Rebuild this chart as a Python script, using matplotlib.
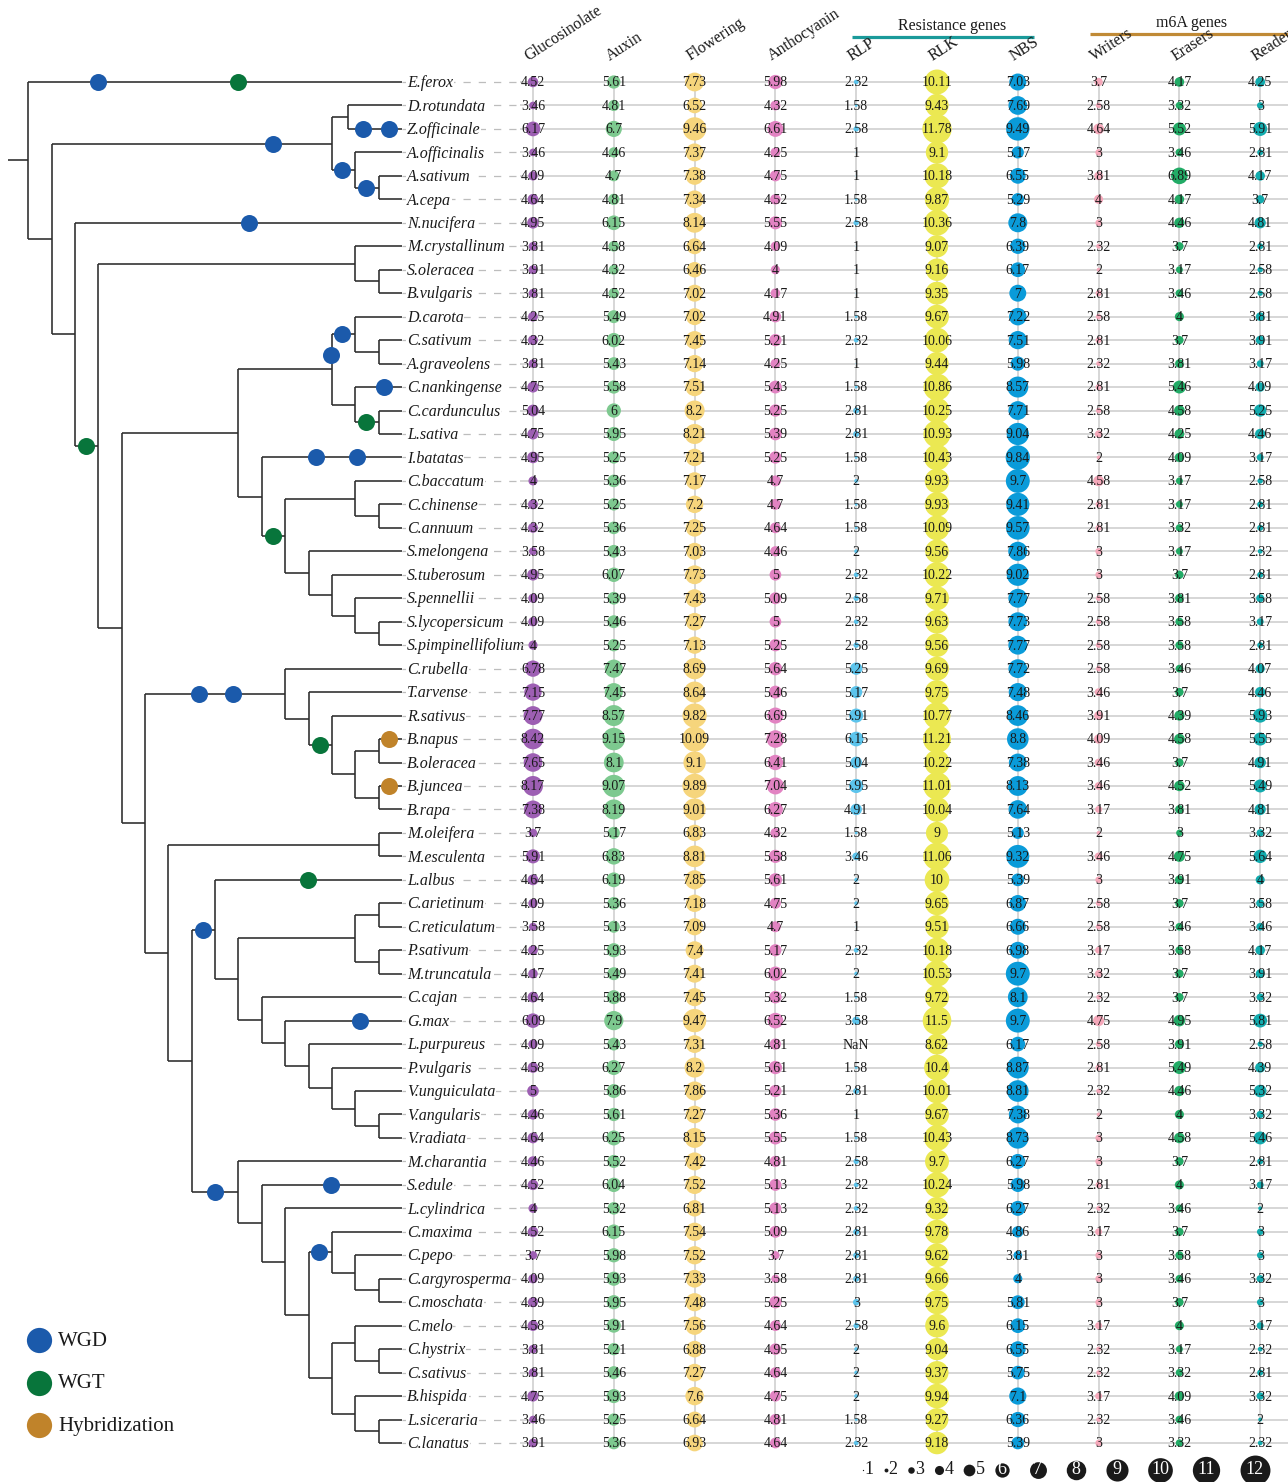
import numpy as np
import matplotlib
matplotlib.use("Agg")
import matplotlib.pyplot as plt

# ---------------- data ----------------
species = ["E.ferox", "D.rotundata", "Z.officinale", "A.officinalis", "A.sativum", "A.cepa",
           "N.nucifera", "M.crystallinum", "S.oleracea", "B.vulgaris", "D.carota", "C.sativum",
           "A.graveolens", "C.nankingense", "C.cardunculus", "L.sativa", "I.batatas", "C.baccatum",
           "C.chinense", "C.annuum", "S.melongena", "S.tuberosum", "S.pennellii", "S.lycopersicum",
           "S.pimpinellifolium", "C.rubella", "T.arvense", "R.sativus", "B.napus", "B.oleracea",
           "B.juncea", "B.rapa", "M.oleifera", "M.esculenta", "L.albus", "C.arietinum",
           "C.reticulatum", "P.sativum", "M.truncatula", "C.cajan", "G.max", "L.purpureus",
           "P.vulgaris", "V.unguiculata", "V.angularis", "V.radiata", "M.charantia", "S.edule",
           "L.cylindrica", "C.maxima", "C.pepo", "C.argyrosperma", "C.moschata", "C.melo",
           "C.hystrix", "C.sativus", "B.hispida", "L.siceraria", "C.lanatus"]

glucosinolate = [4.52, 3.46, 6.17, 3.46, 4.09, 4.64, 4.95, 3.81, 3.91, 3.81, 4.25, 4.32, 3.81, 4.75,
                 5.04, 4.75, 4.95, 4, 4.32, 4.32, 3.58, 4.95, 4.09, 4.09, 4, 6.78, 7.15, 7.77, 8.42,
                 7.65, 8.17, 7.38, 3.7, 5.91, 4.64, 4.09, 3.58, 4.25, 4.17, 4.64, 6.09, 4.09, 4.58,
                 5, 4.46, 4.64, 4.46, 4.52, 4, 4.52, 3.7, 4.09, 4.39, 4.58, 3.81, 3.81, 4.75, 3.46, 3.91]
auxin = [5.61, 4.81, 6.7, 4.46, 4.7, 4.81, 6.15, 4.58, 4.32, 4.52, 5.49, 6.02, 5.43, 5.58, 6, 5.95,
         5.25, 5.36, 5.25, 5.36, 5.43, 6.07, 5.39, 5.46, 5.25, 7.47, 7.45, 8.57, 9.15, 8.1, 9.07,
         8.19, 5.17, 6.83, 6.19, 5.36, 5.13, 5.93, 5.49, 5.88, 7.9, 5.43, 6.27, 5.86, 5.61, 6.25,
         5.52, 6.04, 5.32, 6.15, 5.98, 5.93, 5.95, 5.91, 5.21, 5.46, 5.93, 5.25, 5.36]
flowering = [7.73, 6.52, 9.46, 7.37, 7.38, 7.34, 8.14, 6.64, 6.46, 7.02, 7.02, 7.45, 7.14, 7.51, 8.2,
             8.21, 7.21, 7.17, 7.2, 7.25, 7.03, 7.73, 7.43, 7.27, 7.13, 8.69, 8.64, 9.82, 10.09, 9.1,
             9.89, 9.01, 6.83, 8.81, 7.85, 7.18, 7.09, 7.4, 7.41, 7.45, 9.47, 7.31, 8.2, 7.86, 7.27,
             8.15, 7.42, 7.52, 6.81, 7.54, 7.52, 7.33, 7.48, 7.56, 6.88, 7.27, 7.6, 6.64, 6.93]
anthocyanin = [5.98, 4.32, 6.61, 4.25, 4.75, 4.52, 5.55, 4.09, 4, 4.17, 4.91, 5.21, 4.25, 5.43, 5.25,
               5.39, 5.25, 4.7, 4.7, 4.64, 4.46, 5, 5.09, 5, 5.25, 5.64, 5.46, 6.69, 7.28, 6.41, 7.04,
               6.27, 4.32, 5.58, 5.61, 4.75, 4.7, 5.17, 6.02, 5.32, 6.52, 4.81, 5.61, 5.21, 5.36, 5.55,
               4.81, 5.13, 5.13, 5.09, 3.7, 3.58, 5.25, 4.64, 4.95, 4.64, 4.75, 4.81, 4.64]
rlp = [2.32, 1.58, 2.58, 1, 1, 1.58, 2.58, 1, 1, 1, 1.58, 2.32, 1, 1.58, 2.81, 2.81, 1.58, 2, 1.58,
       1.58, 2, 2.32, 2.58, 2.32, 2.58, 5.25, 5.17, 5.91, 6.15, 5.04, 5.95, 4.91, 1.58, 3.46, 2, 2, 1,
       2.32, 2, 1.58, 3.58, np.nan, 1.58, 2.81, 1, 1.58, 2.58, 2.32, 2.32, 2.81, 2.81, 2.81, 3, 2.58,
       2, 2, 2, 1.58, 2.32]
rlk = [10.11, 9.43, 11.78, 9.1, 10.18, 9.87, 10.36, 9.07, 9.16, 9.35, 9.67, 10.06, 9.44, 10.86, 10.25,
       10.93, 10.43, 9.93, 9.93, 10.09, 9.56, 10.22, 9.71, 9.63, 9.56, 9.69, 9.75, 10.77, 11.21, 10.22,
       11.01, 10.04, 9, 11.06, 10, 9.65, 9.51, 10.18, 10.53, 9.72, 11.5, 8.62, 10.4, 10.01, 9.67, 10.43,
       9.7, 10.24, 9.32, 9.78, 9.62, 9.66, 9.75, 9.6, 9.04, 9.37, 9.94, 9.27, 9.18]
nbs = [7.03, 7.69, 9.49, 5.17, 6.55, 5.29, 7.8, 6.39, 6.17, 7, 7.22, 7.51, 5.98, 8.57, 7.71, 9.04, 9.84,
       9.7, 9.41, 9.57, 7.86, 9.02, 7.77, 7.73, 7.77, 7.72, 7.48, 8.46, 8.8, 7.38, 8.13, 7.64, 5.13,
       9.32, 5.39, 6.87, 6.66, 6.98, 9.7, 8.1, 9.7, 6.17, 8.87, 8.81, 7.38, 8.73, 6.27, 5.98, 6.27,
       4.86, 3.81, 4, 5.81, 6.15, 6.55, 5.75, 7.1, 6.36, 5.39]
writers = [3.7, 2.58, 4.64, 3, 3.81, 4, 3, 2.32, 2, 2.81, 2.58, 2.81, 2.32, 2.81, 2.58, 3.32, 2, 4.58,
           2.81, 2.81, 3, 3, 2.58, 2.58, 2.58, 2.58, 3.46, 3.91, 4.09, 3.46, 3.46, 3.17, 2, 3.46, 3,
           2.58, 2.58, 3.17, 3.32, 2.32, 4.75, 2.58, 2.81, 2.32, 2, 3, 3, 2.81, 2.32, 3.17, 3, 3, 3,
           3.17, 2.32, 2.32, 3.17, 2.32, 3]
erasers = [4.17, 3.32, 5.52, 3.46, 6.89, 4.17, 4.46, 3.7, 3.17, 3.46, 4, 3.7, 3.81, 5.46, 4.58, 4.25,
           4.09, 3.17, 3.17, 3.32, 3.17, 3.7, 3.81, 3.58, 3.58, 3.46, 3.7, 4.39, 4.58, 3.7, 4.52, 3.81,
           3, 4.75, 3.91, 3.7, 3.46, 3.58, 3.7, 3.7, 4.95, 3.91, 5.49, 4.46, 4, 4.58, 3.7, 4, 3.46, 3.7,
           3.58, 3.46, 3.7, 4, 3.17, 3.32, 4.09, 3.46, 3.32]
readers = [4.25, 3, 5.91, 2.81, 4.17, 3.7, 4.81, 2.81, 2.58, 2.58, 3.81, 3.91, 3.17, 4.09, 5.25, 4.46,
           3.17, 2.58, 2.81, 2.81, 2.32, 2.81, 3.58, 3.17, 2.81, 4.07, 4.46, 5.93, 5.55, 4.91, 5.49,
           4.81, 3.32, 5.64, 4, 3.58, 3.46, 4.17, 3.91, 3.32, 5.81, 2.58, 4.39, 5.32, 3.32, 5.46, 2.81,
           3.17, 2, 3, 3, 3.32, 3, 3.17, 2.32, 2.81, 3.32, 2, 2.32]

column_names = ["Glucosinolate", "Auxin", "Flowering", "Anthocyanin", "RLP", "RLK", "NBS",
                "Writers", "Erasers", "Readers"]
column_values = [glucosinolate, auxin, flowering, anthocyanin, rlp, rlk, nbs, writers, erasers, readers]
column_colors = ["#9d5fb3", "#7dc98f", "#f6d57c", "#e283c2", "#5cc4ec", "#ebe852", "#0a9bd9",
                 "#f5a8ba", "#22ab66", "#12abae"]
groups = [("Resistance genes", "RLP", "NBS", "#1a9a9a"), ("m6A genes", "Writers", "Readers", "#c08a36")]
size_legend_values = [1, 2, 3, 4, 5, 6, 7, 8, 9, 10, 11, 12]

# phylogeny (branch lengths in node-depth units)
newick = (
    "(E.ferox:16,"
    "(((D.rotundata:2.3,Z.officinale:2.3)DZ:0.7,(A.officinalis:2,(A.sativum:1,A.cepa:1)AC:1)AO:1)Monocots:12,"
    "(N.nucifera:14,"
    "((M.crystallinum:2,(S.oleracea:1,B.vulgaris:1)SB:1)Car:11,"
    "((((D.carota:2,(C.sativum:1,A.graveolens:1)CA:1)G1:1,(C.nankingense:2,(C.cardunculus:1,L.sativa:1)CL:1)G2:1)G:4,"
    "(I.batatas:6,((C.baccatum:2,(C.chinense:1,C.annuum:1)CC:1)Cap:3,(S.melongena:4,(S.tuberosum:3,(S.pennellii:2,(S.lycopersicum:1,S.pimpinellifolium:1)S3:1)S2:1)S1:1)Sol:1)J:1)H:1)E:5,"
    "((C.rubella:5,(T.arvense:4,(R.sativus:3,((B.napus:1,B.oleracea:1)B4:1,(B.juncea:1,B.rapa:1)B5:1)B3:1)B2:1)B1:1)Bra:6,"
    "((M.oleifera:1,M.esculenta:1)Mo:9,"
    "((L.albus:8,(((C.arietinum:1,C.reticulatum:1)F2:1,(P.sativum:1,M.truncatula:1)F3:1)Gal:5,(C.cajan:6,(G.max:5,(L.purpureus:4,(P.vulgaris:3,(V.unguiculata:2,(V.angularis:1,V.radiata:1)F9:1)F8:1)F7:1)F6:1)F5:1)F4:1)F1:1)Fab:1,"
    "(M.charantia:7,(S.edule:6,(L.cylindrica:5,((C.maxima:3,(C.pepo:2,(C.argyrosperma:1,C.moschata:1)C5:1)C4:1)Cb:1,((C.melo:2,(C.hystrix:1,C.sativus:1)C8:1)C7:1,(B.hispida:2,(L.siceraria:1,C.lanatus:1)C10:1)C9:1)C6:1)C3:1)C2:1)C1:1)Cuc:2"
    ")L:1)K:1)F:1)D:1)C:1)B:1)A:1)R:0.87;"
)

# polyploidy events: (type, branch (child node), depth along tree, row nudge)
event_types = ["WGD", "WGT", "Hybridization"]
event_colors = ["#1b5aab", "#08753b", "#c0832a"]
events = [
    ("WGD", "E.ferox", 3.0, 0), ("WGT", "E.ferox", 9.0, 0),
    ("WGD", "Monocots", 10.5, 0), ("WGD", "Z.officinale", 14.35, 0), ("WGD", "Z.officinale", 15.45, 0),
    ("WGD", "AO", 13.45, 0), ("WGD", "AC", 14.45, 0), ("WGD", "N.nucifera", 9.47, 0),
    ("WGT", "C", 2.48, 0), ("WGD", "G1", 13.45, 0), ("WGD", "G", 12.97, -0.61),
    ("WGD", "C.nankingense", 15.25, 0), ("WGT", "CL", 14.45, 0),
    ("WGD", "I.batatas", 12.32, 0), ("WGD", "I.batatas", 14.06, 0), ("WGT", "J", 10.48, 0),
    ("WGD", "Bra", 7.3, 0), ("WGD", "Bra", 8.78, 0), ("WGT", "B2", 12.5, 0),
    ("Hybridization", "B.napus", 15.45, 0), ("Hybridization", "B.juncea", 15.45, 0),
    ("WGD", "Fab", 7.48, 0), ("WGT", "L.albus", 11.97, 0), ("WGD", "G.max", 14.2, 0),
    ("WGD", "Cuc", 8.0, 0), ("WGD", "S.edule", 12.97, 0), ("WGD", "Cb", 12.45, 0),
]

# ---------------- helpers ----------------
def parse_newick(s):
    pos = 0

    def node():
        nonlocal pos
        nd = {"children": [], "name": "", "length": 0.0}
        if s[pos] == "(":
            pos += 1
            while True:
                nd["children"].append(node())
                if s[pos] == ",":
                    pos += 1
                    continue
                pos += 1  # ')'
                break
        st = pos
        while s[pos] not in ",():;":
            pos += 1
        nd["name"] = s[st:pos]
        if s[pos] == ":":
            pos += 1
            st = pos
            while s[pos] not in ",();":
                pos += 1
            nd["length"] = float(s[st:pos])
        return nd

    return node()


tree = parse_newick(newick)
tips = []


def layout(nd, parent_x):
    nd["x"] = parent_x + nd["length"]
    nd["px"] = parent_x
    if not nd["children"]:
        nd["y"] = len(tips)
        tips.append(nd["name"])
    else:
        for c in nd["children"]:
            layout(c, nd["x"])
        nd["y"] = float(np.mean([c["y"] for c in nd["children"]]))


layout(tree, -tree["length"])
assert tips == species
nodes = {}


def collect(nd):
    nodes[nd["name"]] = nd
    for c in nd["children"]:
        collect(c)


collect(tree)

# ---------------- figure ----------------
W, H, DPI = 1288, 1482, 100
fig = plt.figure(figsize=(W / DPI, H / DPI), dpi=DPI)
serif = ["Liberation Serif", "DejaVu Serif"]
plt.rcParams["font.family"] = serif

ROW0 = 82.0
row_px = (1443 - ROW0) / 58.0
ylim = ((H - ROW0) / row_px, -ROW0 / row_px)


def ypx(p):
    return (p - ROW0) / row_px


# tree axes
tree_px0, tree_step = 28.3, 23.35
axT = fig.add_axes([0, 0, 520 / W, 1])
axT.set_xlim(-tree_px0 / tree_step, (520 - tree_px0) / tree_step)
axT.set_ylim(*ylim)
axT.axis("off")

line_kw = dict(color="#2b2b2b", lw=1.15, solid_capstyle="butt", zorder=2)


def draw(nd):
    axT.plot([nd["px"], nd["x"]], [nd["y"], nd["y"]], **line_kw)
    if nd["children"]:
        ys = [c["y"] for c in nd["children"]]
        axT.plot([nd["x"], nd["x"]], [min(ys), max(ys)], **line_kw)
        for c in nd["children"]:
            draw(c)


draw(tree)

tip_depth = max(nodes[t]["x"] for t in species)
dash_end = (516 - tree_px0) / tree_step
for i, name in enumerate(species):
    axT.plot([tip_depth, dash_end], [i, i], color="#bdbdbd", lw=0.9,
             linestyle=(0, (5.8, 6.4)), zorder=1)
    axT.text(tip_depth + 5 / tree_step, i + 0.05, name, fontsize=11.5, style="italic", va="center",
             ha="left", zorder=3, color="#1a1a1a",
             bbox=dict(boxstyle="square,pad=0.05", fc="white", ec="none"))

for etype, target, depth, nudge in events:
    col = event_colors[event_types.index(etype)]
    axT.scatter([depth], [nodes[target]["y"] + nudge], s=150, color=col, zorder=4, linewidths=0)

# left legend
for k, (lab, col) in enumerate(zip(event_types, event_colors)):
    yy = ypx(1340 + k * 42.5)
    axT.scatter([(39 - tree_px0) / tree_step], [yy], s=330, color=col, linewidths=0,
                clip_on=False, zorder=4)
    axT.text((58 - tree_px0) / tree_step, yy + 0.05, lab, fontsize=15, va="center", ha="left",
             color="#1a1a1a")

# bubble axes
col_px0, col_step = 533, 80.8
axB = fig.add_axes([520 / W, 0, 1 - 520 / W, 1])
axB.set_xlim((520 - col_px0) / col_step, (W - col_px0) / col_step)
axB.set_ylim(*ylim)
axB.axis("off")

n = len(species)
rows = np.arange(n)
ncol = len(column_names)
axB.hlines(rows, (520 - col_px0) / col_step, (W - col_px0) / col_step, color="#d0d0d0",
           lw=1.2, zorder=1)
axB.vlines(np.arange(ncol), 0, n - 1, color="#d0d0d0", lw=1.2, zorder=1)


def diam_pt(v):
    return np.maximum(2.6 * (np.asarray(v, dtype=float) - 0.5), 1.0) * 72.0 / DPI


for j, (name, vals, col) in enumerate(zip(column_names, column_values, column_colors)):
    vals = np.asarray(vals, dtype=float)
    ok = ~np.isnan(vals)
    axB.scatter(np.full(ok.sum(), j), rows[ok], s=diam_pt(vals[ok]) ** 2, color=col,
                linewidths=0, zorder=2)
    for i, v in enumerate(vals):
        txt = "NaN" if np.isnan(v) else f"{v:g}"
        axB.text(j, i + 0.04, txt, fontsize=10, ha="center", va="center", color="#1a1a1a", zorder=3)
    axB.text(j - 2 / col_step, ypx(64), name, rotation=33, rotation_mode="anchor",
             ha="left", va="bottom", fontsize=11.5, color="#1a1a1a", clip_on=False)

for gname, c0, c1, gcol in groups:
    j0, j1 = column_names.index(c0), column_names.index(c1)
    res = gname.startswith("Res")
    x0 = j0 - 0.05 if res else j0 - 0.11
    x1 = j1 + 0.2 if res else (W - col_px0) / col_step
    yline = ypx(37) if res else ypx(34)
    axB.plot([x0, x1], [yline, yline], color=gcol, lw=2.3, solid_capstyle="butt", clip_on=False)
    xc = (952 - col_px0) / col_step if res else (1192 - col_px0) / col_step
    axB.text(xc, yline - 0.45, gname, fontsize=11.5, ha="center", va="center", color="#1a1a1a")

# size legend
ly = ypx(1470)
x = (863 - col_px0) / col_step
prev_r = None
for v in size_legend_values:
    d_px = max(2.6 * (v - 0.5), 1.0)
    r = d_px / 2
    if prev_r is not None:
        x += (prev_r + r + 20) / col_step
    axB.scatter([x], [ly], s=(d_px * 72 / DPI) ** 2, color="#1a1a1a", linewidths=0,
                clip_on=False, zorder=2)
    if v <= 5:
        axB.text(x + (r + 1) / col_step, ly, str(v), fontsize=13, ha="left", va="center",
                 color="#1a1a1a")
    else:
        axB.text(x, ly, str(v), fontsize=13, ha="center", va="center", color="white", zorder=3)
    prev_r = r

fig.savefig("out.png", dpi=DPI)
